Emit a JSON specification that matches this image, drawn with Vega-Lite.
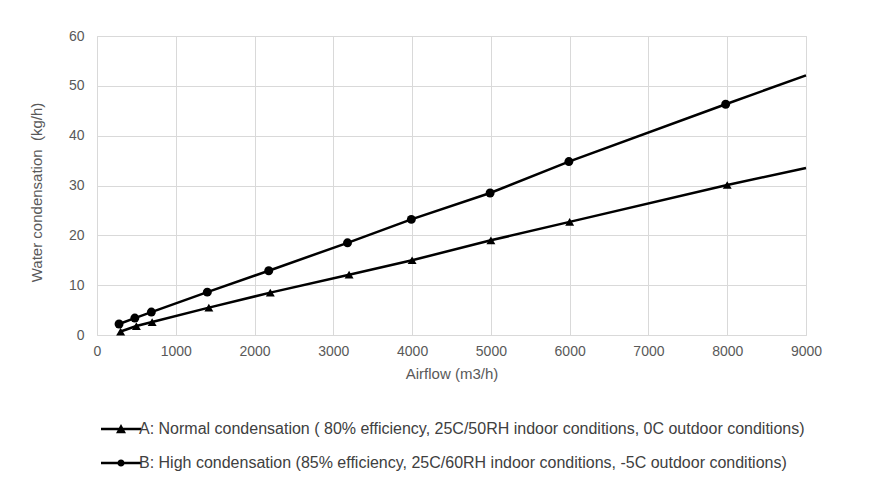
{
  "$schema": "https://vega.github.io/schema/vega-lite/v6.json",
  "width": 709,
  "height": 299,
  "autosize": {"type": "none"},
  "padding": {"left": 97, "top": 36, "right": 89, "bottom": 165},
  "background": "white",
  "config": {
    "font": "Liberation Sans",
    "view": {"stroke": "#d9d9d9", "strokeWidth": 1},
    "axis": {
      "gridColor": "#d9d9d9",
      "gridWidth": 1,
      "domain": false,
      "ticks": false,
      "labelFlush": false,
      "labelOverlap": false,
      "labelFont": "Liberation Sans",
      "labelFontSize": 14,
      "labelColor": "#595959",
      "titleFont": "Liberation Sans",
      "titleFontSize": 15,
      "titleFontWeight": "normal",
      "titleColor": "#595959"
    }
  },
  "data": {
    "values": [
      {"series": "A: Normal condensation ( 80% efficiency, 25C/50RH indoor conditions, 0C outdoor conditions)", "airflow": 300, "water": 0.7},
      {"series": "A: Normal condensation ( 80% efficiency, 25C/50RH indoor conditions, 0C outdoor conditions)", "airflow": 500, "water": 1.8},
      {"series": "A: Normal condensation ( 80% efficiency, 25C/50RH indoor conditions, 0C outdoor conditions)", "airflow": 700, "water": 2.6},
      {"series": "A: Normal condensation ( 80% efficiency, 25C/50RH indoor conditions, 0C outdoor conditions)", "airflow": 1420, "water": 5.5},
      {"series": "A: Normal condensation ( 80% efficiency, 25C/50RH indoor conditions, 0C outdoor conditions)", "airflow": 2200, "water": 8.5},
      {"series": "A: Normal condensation ( 80% efficiency, 25C/50RH indoor conditions, 0C outdoor conditions)", "airflow": 3200, "water": 12.1},
      {"series": "A: Normal condensation ( 80% efficiency, 25C/50RH indoor conditions, 0C outdoor conditions)", "airflow": 4000, "water": 15.0},
      {"series": "A: Normal condensation ( 80% efficiency, 25C/50RH indoor conditions, 0C outdoor conditions)", "airflow": 5000, "water": 19.0},
      {"series": "A: Normal condensation ( 80% efficiency, 25C/50RH indoor conditions, 0C outdoor conditions)", "airflow": 6000, "water": 22.7},
      {"series": "A: Normal condensation ( 80% efficiency, 25C/50RH indoor conditions, 0C outdoor conditions)", "airflow": 8000, "water": 30.1},
      {"series": "A: Normal condensation ( 80% efficiency, 25C/50RH indoor conditions, 0C outdoor conditions)", "airflow": 9000, "water": 33.5, "kind": "line end"},
      {"series": "B: High condensation (85% efficiency, 25C/60RH indoor conditions, -5C outdoor conditions)", "airflow": 280, "water": 2.2},
      {"series": "B: High condensation (85% efficiency, 25C/60RH indoor conditions, -5C outdoor conditions)", "airflow": 480, "water": 3.4},
      {"series": "B: High condensation (85% efficiency, 25C/60RH indoor conditions, -5C outdoor conditions)", "airflow": 690, "water": 4.6},
      {"series": "B: High condensation (85% efficiency, 25C/60RH indoor conditions, -5C outdoor conditions)", "airflow": 1400, "water": 8.6},
      {"series": "B: High condensation (85% efficiency, 25C/60RH indoor conditions, -5C outdoor conditions)", "airflow": 2180, "water": 12.9},
      {"series": "B: High condensation (85% efficiency, 25C/60RH indoor conditions, -5C outdoor conditions)", "airflow": 3180, "water": 18.5},
      {"series": "B: High condensation (85% efficiency, 25C/60RH indoor conditions, -5C outdoor conditions)", "airflow": 3990, "water": 23.2},
      {"series": "B: High condensation (85% efficiency, 25C/60RH indoor conditions, -5C outdoor conditions)", "airflow": 4990, "water": 28.5},
      {"series": "B: High condensation (85% efficiency, 25C/60RH indoor conditions, -5C outdoor conditions)", "airflow": 5990, "water": 34.8},
      {"series": "B: High condensation (85% efficiency, 25C/60RH indoor conditions, -5C outdoor conditions)", "airflow": 7980, "water": 46.3},
      {"series": "B: High condensation (85% efficiency, 25C/60RH indoor conditions, -5C outdoor conditions)", "airflow": 9000, "water": 52.1, "kind": "line end"}
    ]
  },
  "encoding": {
    "x": {
      "field": "airflow",
      "type": "quantitative",
      "scale": {"domain": [0, 9000], "nice": false},
      "axis": {"values": [0,1000,2000,3000,4000,5000,6000,7000,8000,9000], "format": "d", "labelPadding": 9, "title": "Airflow (m3/h)", "titlePadding": 8}
    },
    "y": {
      "field": "water",
      "type": "quantitative",
      "scale": {"domain": [0, 60], "nice": false},
      "axis": {"values": [0,10,20,30,40,50,60], "labelPadding": 13, "title": "Water condensation\u00a0 (kg/h)", "titlePadding": 24, "titleY": 156}
    }
  },
  "layer": [
    {
      "mark": {"type": "line", "color": "black", "strokeWidth": 2.5},
      "encoding": {"detail": {"field": "series", "type": "nominal"}}
    },
    {
      "transform": [{"filter": "datum.kind == null"}],
      "mark": {"type": "point", "filled": true, "color": "black", "size": 80, "opacity": 1},
      "encoding": {
        "shape": {
          "field": "series",
          "type": "nominal",
          "scale": {"range": ["triangle-up", "circle"]},
          "legend": null
        }
      }
    },
    {
      "transform": [{"filter": "datum.kind == null"}],
      "mark": {"type": "point", "filled": true, "color": "black", "size": 0, "opacity": 1},
      "encoding": {
        "shape": {
          "field": "series",
          "type": "nominal",
          "scale": {"range": ["M-1,-0.06H1V0.06H-1ZM-0.25,0.21L0,-0.25L0.25,0.21Z", "M-1,-0.06H1V0.06H-1ZM-0.18,0A0.18,0.18 0 1,1 0.18,0A0.18,0.18 0 1,1 -0.18,0Z"]},
          "legend": {
            "title": null,
            "orient": "none",
            "legendX": 3,
            "legendY": 372,
            "direction": "vertical",
            "symbolSize": 1600,
            "symbolFillColor": "black",
            "symbolOpacity": 1,
            "rowPadding": 5,
            "labelOffset": -3,
            "labelFont": "Liberation Sans",
            "labelFontSize": 16,
            "labelColor": "#404040",
            "labelLimit": 0
          }
        }
      }
    }
  ],
  "resolve": {"scale": {"shape": "independent"}}
}
